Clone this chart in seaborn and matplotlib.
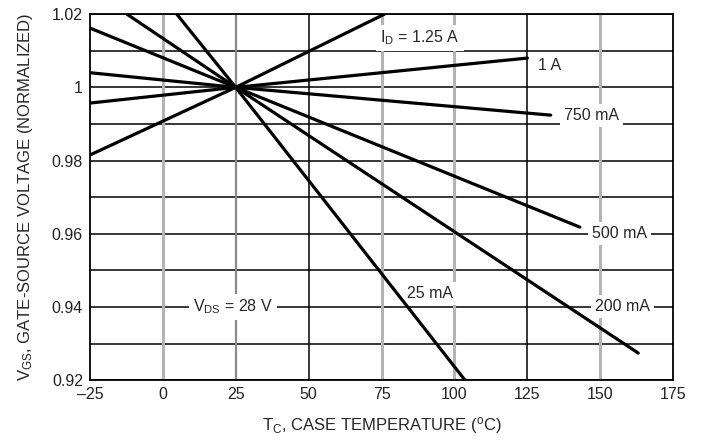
import matplotlib
matplotlib.use("Agg")
import matplotlib.pyplot as plt
import seaborn as sns
import pandas as pd

# Drain currents and the normalized V_GS curves
currents = ["1.25 A", "1 A", "750 mA", "500 mA", "200 mA", "25 mA"]
temp_125a = [-25, 25, 76]
vgs_125a = [0.9815, 1.0, 1.02]
temp_1a = [-25, 25, 125]
vgs_1a = [0.9957, 1.0, 1.008]
temp_750ma = [-25, 25, 133]
vgs_750ma = [1.004, 1.0, 0.9924]
temp_500ma = [-25, 25, 143]
vgs_500ma = [1.0162, 1.0, 0.9618]
temp_200ma = [-12.3, 25, 163]
vgs_200ma = [1.02, 1.0, 0.9274]
temp_25ma = [4.8, 25, 103.6]
vgs_25ma = [1.02, 1.0, 0.92]

x_ticks = [-25, 0, 25, 50, 75, 100, 125, 150, 175]
y_ticks = [0.92, 0.94, 0.96, 0.98, 1.0, 1.02]
y_tick_labels = ["0.92", "0.94", "0.96", "0.98", "1", "1.02"]
y_grid = [0.92, 0.93, 0.94, 0.95, 0.96, 0.97, 0.98, 0.99, 1.0, 1.01, 1.02]

sns.set_style("white")
font = ["Liberation Sans Narrow", "Liberation Sans", "DejaVu Sans"]
plt.rcParams["font.family"] = font
plt.rcParams["mathtext.fontset"] = "custom"
plt.rcParams["mathtext.rm"] = "Liberation Sans"
plt.rcParams["mathtext.it"] = "Liberation Sans"

series = [
    (temp_125a, vgs_125a),
    (temp_1a, vgs_1a),
    (temp_750ma, vgs_750ma),
    (temp_500ma, vgs_500ma),
    (temp_200ma, vgs_200ma),
    (temp_25ma, vgs_25ma),
]
rows = []
for name, (t, v) in zip(currents, series):
    for ti, vi in zip(t, v):
        rows.append({"current": name, "temp": ti, "vgs": vi})
df = pd.DataFrame(rows)

fig, ax = plt.subplots(figsize=(7.02, 4.42), dpi=100)
fig.subplots_adjust(left=0.128, right=0.959, bottom=0.140, top=0.968)

# grid: black horizontals, mixed verticals
for y in y_grid:
    ax.axhline(y, color="black", lw=1.1, zorder=1)
for x in [0, 75, 100, 150]:
    ax.axvline(x, color="#b4b4b4", lw=2.2, zorder=1)
ax.axvline(25, color="#8a8a8a", lw=1.6, zorder=1)
for x in [50, 125]:
    ax.axvline(x, color="black", lw=1.1, zorder=1)

sns.lineplot(data=df, x="temp", y="vgs", hue="current",
             palette={c: "black" for c in currents}, linewidth=2.3,
             legend=False, sort=False, estimator=None, ax=ax, zorder=5)

box = dict(facecolor="white", edgecolor="none", boxstyle="square,pad=0.25")
labels = [
    (r"I$_\mathrm{D}$ = 1.25 A", 74.5, 1.0135),
    ("1 A", 128.5, 1.0061),
    ("750 mA", 137.5, 0.9924),
    ("500 mA", 147.2, 0.9600),
    ("200 mA", 148.2, 0.9400),
    ("25 mA", 83.7, 0.9438),
    (r"V$_\mathrm{DS}$ = 28 V", 10.3, 0.9400),
]
for txt, x, y in labels:
    ax.text(x, y, txt, fontsize=11.5, ha="left", va="center",
            bbox=box, zorder=3)

ax.set_xlim(-25, 175)
ax.set_ylim(0.92, 1.02)
ax.set_xticks(x_ticks)
ax.set_xticklabels([f"{v}".replace("-", "\u2013") for v in x_ticks])
ax.set_yticks(y_ticks)
ax.set_yticklabels(y_tick_labels)
ax.tick_params(length=0, labelsize=11.5, pad=5, colors="#222222")
ax.set_xlabel(r"T$_\mathrm{C}$, CASE TEMPERATURE ($^\mathrm{o}$C)", fontsize=12, labelpad=9)
ax.set_ylabel(r"V$_\mathrm{GS}$, GATE-SOURCE VOLTAGE (NORMALIZED)", fontsize=12, labelpad=12)
for s in ax.spines.values():
    s.set_color("black")
    s.set_linewidth(1.3)
    s.set_zorder(6)

fig.savefig("out.png", dpi=100)
